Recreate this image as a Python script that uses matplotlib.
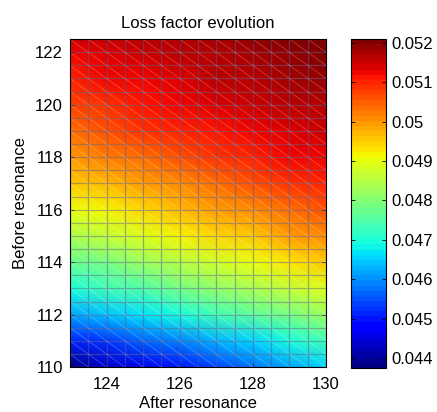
import numpy as np
import matplotlib.pyplot as plt
from matplotlib.ticker import FormatStrFormatter

plt.rcParams['font.family'] = ['Liberation Sans', 'DejaVu Sans']
plt.rcParams['font.size'] = 12

# values (grid points of the surface)
after_res = [123, 124, 125, 126, 127, 128, 129, 130]
before_res = [110, 111, 112, 113, 114, 115, 116, 117, 118, 119, 120, 121, 122, 122.5]
loss = np.array([
    [0.04375, 0.0443, 0.0446, 0.0450, 0.0454, 0.0458, 0.0462, 0.0466],
    [0.0451, 0.0453, 0.0456, 0.0459, 0.0463, 0.0466, 0.0470, 0.0473],
    [0.0462, 0.0464, 0.0467, 0.0470, 0.0473, 0.0476, 0.0479, 0.0482],
    [0.0470, 0.0473, 0.0475, 0.0478, 0.0481, 0.0484, 0.0486, 0.0489],
    [0.0477, 0.0479, 0.0482, 0.0485, 0.0488, 0.0490, 0.0493, 0.0495],
    [0.0484, 0.0486, 0.0489, 0.0491, 0.0494, 0.0496, 0.0499, 0.0501],
    [0.0490, 0.0492, 0.0494, 0.0497, 0.0499, 0.0501, 0.0504, 0.0506],
    [0.0496, 0.0497, 0.0499, 0.0501, 0.0504, 0.0506, 0.0508, 0.0510],
    [0.0500, 0.0502, 0.0504, 0.0506, 0.0508, 0.0510, 0.0512, 0.0513],
    [0.0504, 0.0506, 0.0508, 0.0510, 0.0511, 0.0513, 0.0514, 0.0515],
    [0.0507, 0.0509, 0.0511, 0.0512, 0.0514, 0.0515, 0.0516, 0.0517],
    [0.0510, 0.0512, 0.0513, 0.0514, 0.0516, 0.0517, 0.0518, 0.0519],
    [0.0513, 0.0514, 0.0515, 0.0516, 0.0517, 0.0518, 0.0519, 0.0520],
    [0.0515, 0.0515, 0.0516, 0.0517, 0.0518, 0.0519, 0.0520, 0.0521],
])
x_ticks = [124, 126, 128, 130]
y_ticks = [110, 112, 114, 116, 118, 120, 122]
cb_ticks = [0.044, 0.045, 0.046, 0.047, 0.048, 0.049, 0.05, 0.051, 0.052]

# mesh spacing of the surface edges
x_mesh = np.arange(123, 130.01, 0.5)
y_mesh = np.arange(110, 122.51, 0.5)

fig = plt.figure(figsize=(4.37, 4.12), dpi=100)
ax = fig.add_axes([0.160, 0.109, 0.586, 0.796])
cax = fig.add_axes([0.803, 0.107, 0.080, 0.799])

cmap = plt.get_cmap('jet', 64)
X, Y = np.meshgrid(after_res, before_res)
pc = ax.pcolormesh(X, Y, loss, cmap=cmap, shading='gouraud',
                   vmin=loss.min(), vmax=loss.max())

# surface edges
for xv in x_mesh:
    ax.axvline(xv, color=(0.35, 0.35, 0.6), lw=0.9, alpha=0.5)
for yv in y_mesh:
    ax.axhline(yv, color=(0.4, 0.4, 0.55), lw=0.9, alpha=0.5)
for c in np.arange(x_mesh[0] + y_mesh[0], x_mesh[-1] + y_mesh[-1] + 0.01, 0.5):
    ax.plot([x_mesh[0], x_mesh[-1]], [c - x_mesh[0], c - x_mesh[-1]],
            color='white', lw=0.5, alpha=0.3)

ax.set_xlim(after_res[0], after_res[-1])
ax.set_ylim(before_res[0], before_res[-1])
ax.set_xticks(x_ticks)
ax.set_yticks(y_ticks)
ax.tick_params(direction='in', top=True, right=True, length=3, width=0.6, pad=5)
ax.tick_params(axis='x', pad=7)
for sp in ax.spines.values():
    sp.set_linewidth(0.8)

ax.set_title('Loss factor evolution', fontsize=12, pad=8)
ax.set_xlabel('After resonance', labelpad=3)
ax.set_ylabel('Before resonance', labelpad=5)

cb = fig.colorbar(pc, cax=cax, ticks=cb_ticks)
cb.ax.yaxis.set_major_formatter(FormatStrFormatter('%g'))
cb.ax.tick_params(direction='in', left=True, right=True, length=3, width=0.6, pad=4)
cb.outline.set_linewidth(0.8)

fig.savefig('out.png', dpi=100)
